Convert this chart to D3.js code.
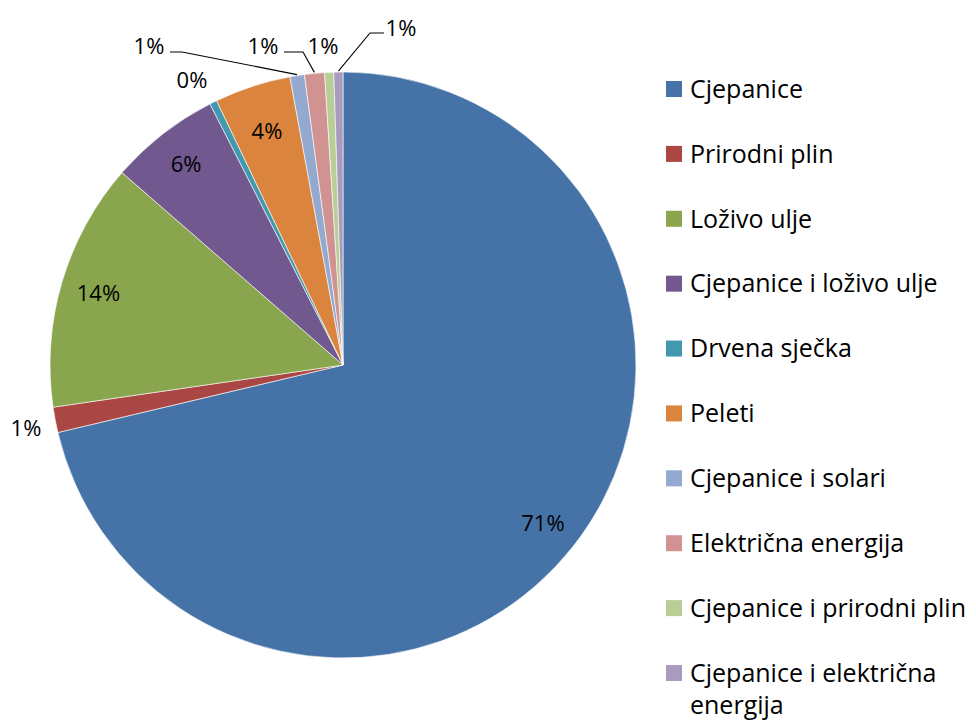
<!DOCTYPE html>
<html><head><meta charset="utf-8">
<script src="https://cdn.jsdelivr.net/npm/d3@7"></script>
<style>body{margin:0;background:#fff}svg{display:block}text{font-family:"Open Sans",Lato,sans-serif;fill:#000}</style>
</head><body><svg id="c" width="976" height="724"></svg>
<script>
const categories = ["Cjepanice","Prirodni plin","Loživo ulje","Cjepanice i loživo ulje","Drvena sječka","Peleti","Cjepanice i solari","Električna energija","Cjepanice i prirodni plin","Cjepanice i električna energija"];
const values = [71.3, 1.4, 13.7, 6.1, 0.4, 4.2, 0.8, 1.1, 0.5, 0.5];
const labels = ["71%","1%","14%","6%","0%","4%","1%","1%","1%","1%"];
const colors = ["#4572A7","#AA4643","#89A54E","#71588F","#4198AF","#DB843D","#93A9CF","#D19392","#B9CD96","#A99BBD"];

// label placement (layout only)
const labelLayout = [
  {inside:0.87},
  {text:[26,428], anchor:"middle"},
  {inside:0.87},
  {inside:0.87},
  {text:[192,80], anchor:"middle"},
  {inside:0.84},
  {text:[149,46], anchor:"middle", elbow:[182,52], end:[170,52]},
  {text:[263,46], anchor:"middle", elbow:[303,52], end:[284,52]},
  {text:[323,46], anchor:"middle"},
  {text:[401,28], anchor:"middle", elbow:[370,33], end:[384,33]}
];

const svg = d3.select("#c");
const cx = 343, cy = 365, r = 293;
const g = svg.append("g").attr("transform",`translate(${cx},${cy})`);
const pie = d3.pie().sort(null).value(d=>d)(values);
const arc = d3.arc().innerRadius(0).outerRadius(r);
g.selectAll("path.s").data(pie).join("path").attr("class","s")
  .attr("d",arc).attr("fill",(d,i)=>colors[i]).attr("stroke","#fff").attr("stroke-width",0.6);

pie.forEach((d,i)=>{
  const L = labelLayout[i];
  const mid = (d.startAngle+d.endAngle)/2;
  if (L.inside){
    const rr = r*L.inside;
    g.append("text").attr("x",Math.sin(mid)*rr).attr("y",-Math.cos(mid)*rr)
      .attr("text-anchor","middle").attr("dy","0.35em").attr("font-size",22).text(labels[i]);
  } else {
    if (L.elbow){
      const p0 = [cx+Math.sin(mid)*(r+1), cy-Math.cos(mid)*(r+1)];
      svg.append("polyline").attr("points",[p0,L.elbow,L.end].map(p=>p.join(",")).join(" "))
        .attr("fill","none").attr("stroke","#000").attr("stroke-width",1.1);
    }
    svg.append("text").attr("x",L.text[0]).attr("y",L.text[1]).attr("text-anchor",L.anchor)
      .attr("dy","0.35em").attr("font-size",22).text(labels[i]);
  }
});

// legend
const lg = svg.append("g").attr("transform","translate(666,0)");
const rowY = d3.scalePoint().domain(categories).range([89,673]);
categories.forEach((c,i)=>{
  const y = rowY(c);
  lg.append("rect").attr("x",0).attr("y",y-8).attr("width",16).attr("height",16).attr("fill",colors[i]);
  const t = lg.append("text").attr("x",24).attr("y",y).attr("dy","0.35em").attr("font-size",25);
  if (c === "Cjepanice i električna energija"){
    t.append("tspan").attr("x",24).text("Cjepanice i električna");
    t.append("tspan").attr("x",24).attr("dy","1.3em").text("energija");
  } else t.text(c);
});
</script></body></html>
